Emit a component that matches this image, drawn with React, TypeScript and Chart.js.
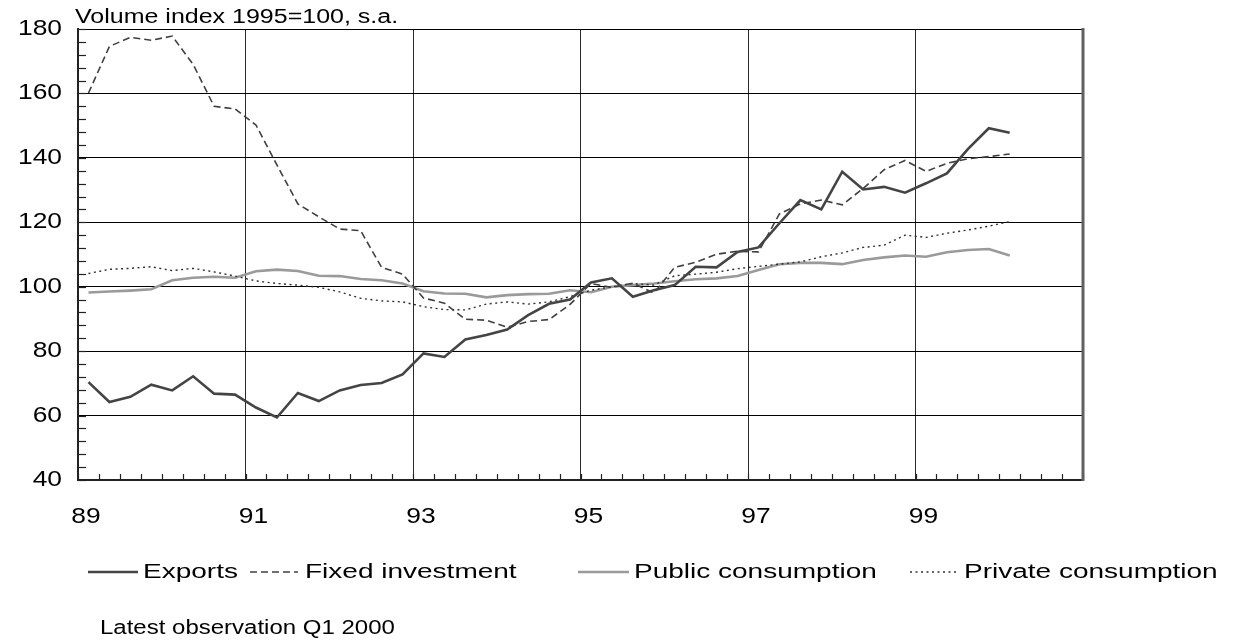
import React, { useEffect, useRef } from "react";
import { Chart, registerables } from "chart.js";
Chart.register(...registerables);

// Quarterly observations, 1989 Q1 – 2000 Q1
const quarters = [
  "89Q1","89Q2","89Q3","89Q4","90Q1","90Q2","90Q3","90Q4",
  "91Q1","91Q2","91Q3","91Q4","92Q1","92Q2","92Q3","92Q4",
  "93Q1","93Q2","93Q3","93Q4","94Q1","94Q2","94Q3","94Q4",
  "95Q1","95Q2","95Q3","95Q4","96Q1","96Q2","96Q3","96Q4",
  "97Q1","97Q2","97Q3","97Q4","98Q1","98Q2","98Q3","98Q4",
  "99Q1","99Q2","99Q3","99Q4","00Q1",
];

const exportsSeries = [
  70.4, 64.2, 65.8, 69.6, 67.8, 72.2, 66.8, 66.5,
  62.5, 59.4, 67.0, 64.5, 67.8, 69.5, 70.1, 72.8,
  79.3, 78.2, 83.6, 85.0, 86.7, 91.2, 94.7, 96.0,
  101.3, 102.6, 96.9, 98.9, 100.5, 106.2, 106.0, 110.8,
  112.2, 119.7, 126.9, 124.0, 135.7, 130.2, 131.0, 129.2,
  132.1, 135.2, 142.7, 149.2, 147.8,
];

const fixedInvestment = [
  160.1, 174.6, 177.4, 176.5, 177.8, 169.0, 156.0, 155.2,
  150.2, 137.8, 125.7, 121.7, 117.9, 117.4, 106.0, 103.9,
  96.5, 94.9, 89.9, 89.6, 87.4, 89.2, 89.8, 94.5,
  101.0, 99.8, 101.1, 98.0, 106.0, 107.6, 110.1, 111.0,
  110.8, 122.6, 125.7, 126.9, 125.4, 130.5, 136.3, 139.2,
  135.8, 138.3, 139.7, 140.4, 141.2,
];

const publicConsumption = [
  98.2, 98.5, 98.8, 99.2, 102.0, 102.8, 103.1, 102.8,
  104.8, 105.3, 104.9, 103.4, 103.3, 102.4, 102.0, 101.0,
  98.6, 97.9, 97.8, 96.7, 97.4, 97.7, 97.8, 98.9,
  98.3, 100.0, 100.5, 101.0, 101.7, 102.3, 102.6, 103.3,
  105.2, 107.0, 107.4, 107.4, 107.0, 108.3, 109.1, 109.7,
  109.3, 110.7, 111.4, 111.7, 109.7,
];

const privateConsumption = [
  104.1, 105.4, 105.7, 106.2, 105.0, 105.7, 104.6, 103.3,
  101.8, 101.0, 100.5, 99.8, 98.4, 96.4, 95.6, 95.3,
  93.8, 92.9, 92.8, 94.6, 95.3, 94.6, 95.3, 96.9,
  98.9, 100.0, 101.0, 100.5, 103.4, 103.9, 104.5, 105.6,
  106.3, 107.0, 107.7, 109.3, 110.5, 112.2, 112.9, 116.0,
  115.3, 116.6, 117.6, 118.8, 120.2,
];

const seriesNames = ["Exports", "Fixed investment", "Public consumption", "Private consumption"];
const yearTickLabels = ["89", "91", "93", "95", "97", "99"];
const yTickValues = [40, 60, 80, 100, 120, 140, 160, 180];
const titleText = "Volume index 1995=100, s.a.";
const footnoteText = "Latest observation Q1 2000";

const Y_MIN = 40;
const Y_MAX = 180;
const X_QUARTERS = 48; // 1989 Q1 .. 2000 Q4

const FONT_FAMILY = "'Liberation Sans', Arial, sans-serif";

function stretchedText(
  ctx: CanvasRenderingContext2D,
  text: string,
  x: number,
  y: number,
  size: number,
  sx: number,
  align: CanvasTextAlign,
  baseline: CanvasTextBaseline
) {
  ctx.save();
  ctx.font = `${size}px ${FONT_FAMILY}`;
  ctx.fillStyle = "#000";
  ctx.textAlign = align;
  ctx.textBaseline = baseline;
  ctx.translate(x, y);
  ctx.scale(sx, 1);
  ctx.fillText(text, 0, 0);
  ctx.restore();
}

const decorPlugin = {
  id: "decor",
  afterDraw(chart: any) {
    const ctx: CanvasRenderingContext2D = chart.ctx;
    const { left, right, top, bottom } = chart.chartArea;
    const xs = chart.scales.x;
    const ys = chart.scales.y;

    ctx.save();
    ctx.strokeStyle = "#222";
    ctx.lineWidth = 1.2;
    for (let v = Y_MIN; v <= Y_MAX; v += 4) {
      const py = Math.round(ys.getPixelForValue(v)) + 0.5;
      ctx.beginPath();
      ctx.moveTo(left, py);
      ctx.lineTo(left + 8, py);
      ctx.stroke();
    }
    for (let q = 0; q <= X_QUARTERS; q++) {
      const px = Math.round(xs.getPixelForValue(q)) + 0.5;
      ctx.beginPath();
      ctx.moveTo(px, bottom);
      ctx.lineTo(px, bottom - 6);
      ctx.stroke();
    }
    ctx.strokeStyle = "#606060";
    ctx.lineWidth = 3;
    ctx.beginPath();
    ctx.moveTo(right, top - 1);
    ctx.lineTo(right, bottom + 1);
    ctx.stroke();
    ctx.restore();

    stretchedText(ctx, titleText, 75, 23, 20, 1.25, "left", "alphabetic");

    yTickValues.forEach((v) => {
      stretchedText(ctx, String(v), 62, ys.getPixelForValue(v), 22, 1.2, "right", "middle");
    });
    yearTickLabels.forEach((lab, i) => {
      stretchedText(ctx, lab, xs.getPixelForValue(i * 8) + 8, 523, 22, 1.2, "center", "alphabetic");
    });

    const legendY = 572;
    const legendItems = [
      { x0: 88, x1: 138, tx: 143 },
      { x0: 250, x1: 298, tx: 305 },
      { x0: 578, x1: 629, tx: 634 },
      { x0: 910, x1: 958, tx: 964 },
    ];
    chart.data.datasets.forEach((ds: any, i: number) => {
      const it = legendItems[i];
      ctx.save();
      ctx.strokeStyle = ds.borderColor;
      ctx.lineWidth = ds.borderWidth;
      ctx.setLineDash(ds.borderDash || []);
      ctx.beginPath();
      ctx.moveTo(it.x0, legendY);
      ctx.lineTo(it.x1, legendY);
      ctx.stroke();
      ctx.restore();
      stretchedText(ctx, ds.label, it.tx, legendY, 20, 1.4, "left", "middle");
    });

    stretchedText(ctx, footnoteText, 100, 628, 20, 1.2, "left", "middle");
  },
};

function toPoints(values: number[]) {
  return values.map((v, i) => ({ x: i + 0.5, y: v, q: quarters[i] }));
}

export default function App() {
  const canvasRef = useRef<HTMLCanvasElement | null>(null);

  useEffect(() => {
    if (!canvasRef.current) return;
    const chart = new Chart(canvasRef.current, {
      type: "line",
      data: {
        datasets: [
          {
            label: seriesNames[0],
            data: toPoints(exportsSeries),
            borderColor: "#444444",
            borderWidth: 2.6,
            pointRadius: 0,
            tension: 0,
            order: 1,
          },
          {
            label: seriesNames[1],
            data: toPoints(fixedInvestment),
            borderColor: "#404040",
            borderWidth: 1.6,
            borderDash: [7, 4],
            pointRadius: 0,
            tension: 0,
            order: 2,
          },
          {
            label: seriesNames[2],
            data: toPoints(publicConsumption),
            borderColor: "#9a9a9a",
            borderWidth: 2.6,
            pointRadius: 0,
            tension: 0,
            order: 4,
          },
          {
            label: seriesNames[3],
            data: toPoints(privateConsumption),
            borderColor: "#303030",
            borderWidth: 1.4,
            borderDash: [2, 3.5],
            pointRadius: 0,
            tension: 0,
            order: 3,
          },
        ],
      },
      options: {
        responsive: false,
        animation: false,
        events: [],
        layout: { padding: { left: 78, top: 29, right: 156, bottom: 161 } },
        plugins: {
          legend: { display: false },
          tooltip: { enabled: false },
          title: { display: false },
        },
        scales: {
          x: {
            type: "linear",
            min: 0,
            max: X_QUARTERS,
            ticks: { display: false, stepSize: 8 },
            grid: {
              drawTicks: false,
              lineWidth: 1,
              color: (c: any) =>
                c.tick && (c.tick.value === 0 || c.tick.value === X_QUARTERS)
                  ? "rgba(0,0,0,0)"
                  : "#2a2a2a",
            },
            border: { display: true, color: "#222", width: 2 },
          },
          y: {
            min: Y_MIN,
            max: Y_MAX,
            ticks: { display: false, stepSize: 20 },
            grid: { drawTicks: false, color: "#000", lineWidth: 1 },
            border: { display: true, color: "#222", width: 2 },
          },
        },
      },
      plugins: [decorPlugin],
    } as any);
    return () => chart.destroy();
  }, []);

  return (
    <div style={{ position: "absolute", left: 0, top: 0, width: 1239, height: 641, background: "#fff" }}>
      <canvas ref={canvasRef} width={1239} height={641} style={{ display: "block" }} />
    </div>
  );
}
